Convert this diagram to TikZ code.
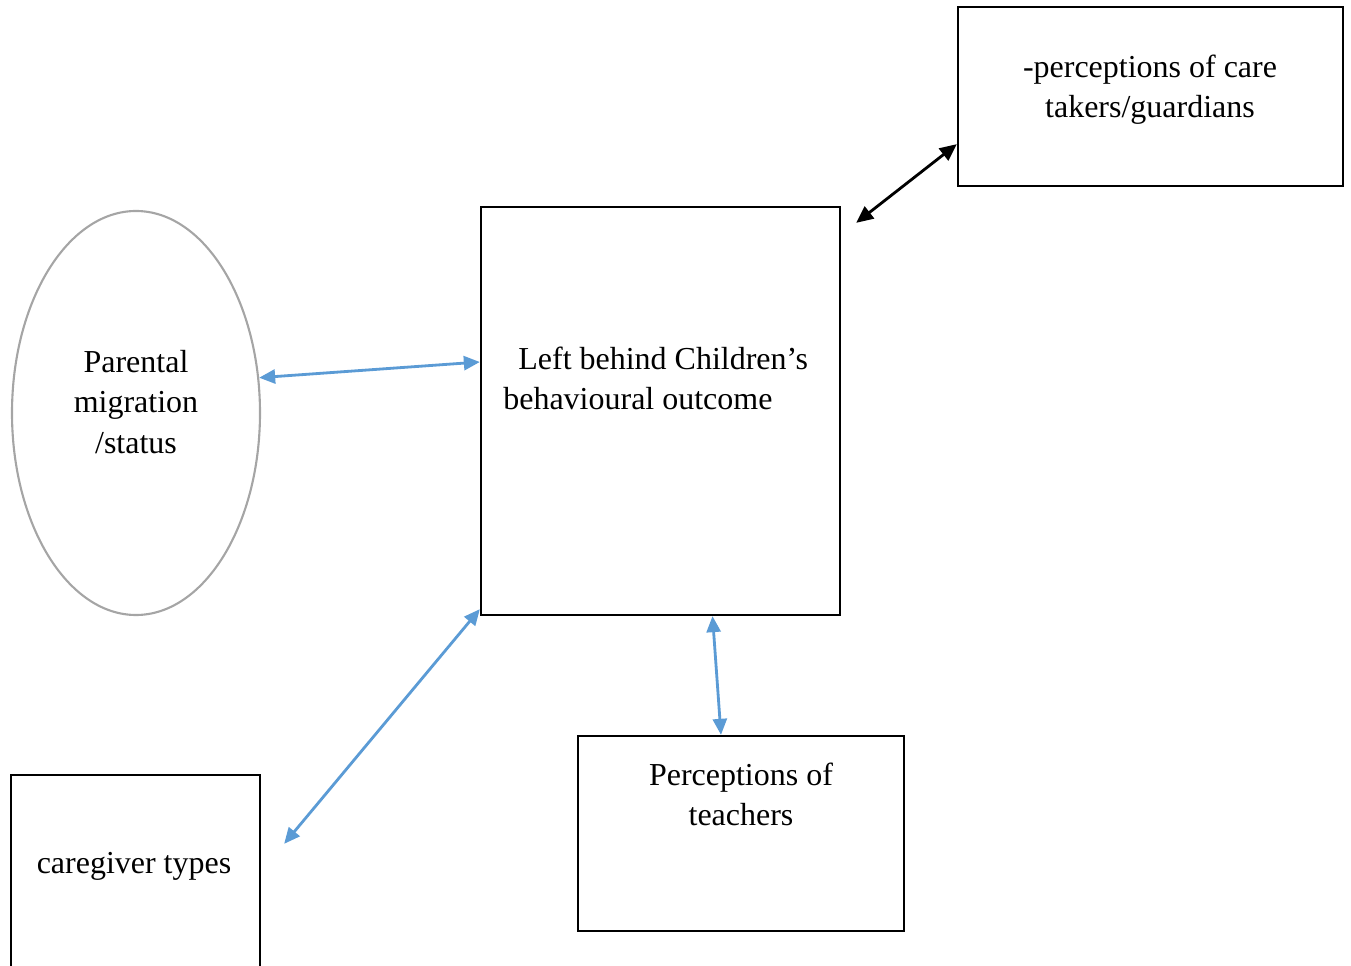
\documentclass[tikz,border=0pt]{standalone}
\usepackage{fontspec}
\setmainfont{Liberation Serif}
\usetikzlibrary{arrows.meta,calc,shapes.geometric}

\definecolor{linkblue}{RGB}{91,155,213}
\definecolor{ovalgray}{RGB}{165,165,165}

\tikzset{
    frame/.style={draw,black,line width=1.3pt,inner sep=0pt},
    label text/.style={align=center,inner sep=0pt,font=\fontsize{18.2}{22.8}\selectfont},
    blue link/.style={<->,>={Triangle[length=3.2mm,width=2.8mm]},line width=1.6pt,linkblue},
    black link/.style={<->,>={Triangle[length=3.4mm,width=3mm]},line width=1.6pt,black}
}

\begin{document}
\begin{tikzpicture}[x=0.2mm,y=0.2mm]
            \useasboundingbox (0,0) rectangle (1351,965);

            % boxes
            \node[frame,minimum width=7.18cm,minimum height=8.16cm] (ctr) at (660.5,554) {};
            \node[frame,minimum width=7.7cm,minimum height=3.58cm] (tr) at (1150.5,868.5) {};
            \node[frame,minimum width=6.52cm,minimum height=3.9cm] (tch) at (741,131.5) {};
            \node[frame,minimum width=4.98cm,minimum height=4.5cm] (cg) at (135.5,77.5) {};
            \node[draw,ovalgray,ellipse,line width=1.2pt,inner sep=0pt,minimum width=4.96cm,minimum height=8.08cm] (par) at (136,552) {};

            % texts
            \node[label text,align=left,anchor=west] (ctrtxt) at (503,587) {\hspace*{0.3cm}Left behind Children’s\\behavioural outcome};
            \node[label text] (trtxt) at (1150,875) {-perceptions of care\\takers/guardians};
            \node[label text] (partxt) at (136,563) {Parental\\migration\\/status};
            \node[label text] (tchtxt) at (741,171) {Perceptions of\\teachers};
            \node[label text] (cgtxt) at (134,99) {caregiver types};

            % connectors
            \coordinate (ctrne) at ($(ctr.north east)+(15,-17)$);
            \coordinate (cgne) at ($(cg.north east)+(23,-70)$);

            \draw[black link] (ctrne) -- ($(tr.south west)+(0,43)$);
            \draw[blue link] (par.16) -- ($(ctr.west)+(0,49)$);
            \draw[blue link] (cgne) -- ($(ctr.south west)+(0,7)$);
            \draw[blue link] ($(ctr.south)+(52,0)$) -- ($(tch.north)+(-20,0)$);
        \end{tikzpicture}
\end{document}
